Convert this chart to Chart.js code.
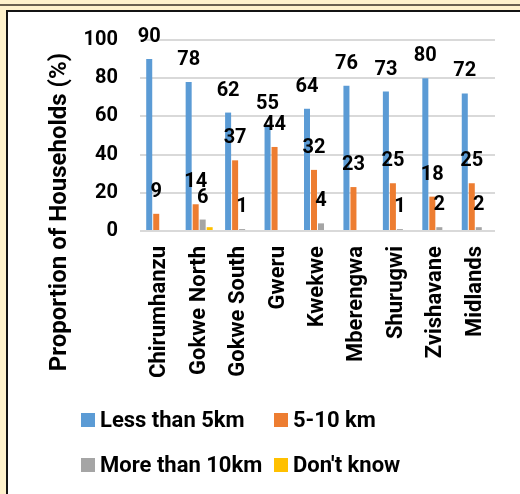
<!DOCTYPE html>
<html>
<head>
<meta charset="utf-8">
<script src="https://cdn.jsdelivr.net/npm/chart.js@4.4.1/dist/chart.umd.min.js"></script>
<style>
  html, body { margin: 0; padding: 0; width: 520px; height: 494px; overflow: hidden; background: #fff2cc; }
  .rule { position: absolute; left: 0; top: 4px; width: 520px; height: 2px; background: #6b6150; }
  .panel { position: absolute; left: 6px; top: 10px; width: 540px; height: 520px; background: #fff;
           border-left: 2px solid #141414; border-top: 2px solid #141414; }
  #chart { position: absolute; left: 0; top: 0; }
</style>
</head>
<body>
<div class="rule"></div>
<div class="panel"></div>
<canvas id="chart" width="520" height="494"></canvas>
<script>
// Distance to the nearest facility, % of households per district
const districts = ['Chirumhanzu', 'Gokwe North', 'Gokwe South', 'Gweru', 'Kwekwe',
                   'Mberengwa', 'Shurugwi', 'Zvishavane', 'Midlands'];
const lessThan5km   = [90, 78, 62, 55, 64, 76, 73, 80, 72];
const from5to10km   = [9, 14, 37, 44, 32, 23, 25, 18, 25];
const moreThan10km  = [0, 6, 1, 0, 4, 0, 1, 2, 2];
const dontKnow      = [0, 2, 0, 0, 0, 0, 0, 0, 0];
const yTicks        = [0, 20, 40, 60, 80, 100];

const FONT = 'Roboto, "Open Sans", "Liberation Sans", sans-serif';
const boldFont = size => ({ family: FONT, size: size, weight: 'bold' });

// Numbers written above each bar
const valueLabels = {
  id: 'valueLabels',
  afterDatasetsDraw(chart) {
    const ctx = chart.ctx;
    ctx.save();
    ctx.font = 'bold 20px ' + FONT;
    ctx.fillStyle = '#000';
    ctx.textAlign = 'center';
    ctx.textBaseline = 'alphabetic';
    chart.data.datasets.forEach((ds, i) => {
      if (ds.showValues === false) return;
      chart.getDatasetMeta(i).data.forEach((bar, j) => {
        const v = ds.data[j];
        if (!v) return;
        ctx.fillText(String(v), bar.x, bar.y - 17);
      });
    });
    ctx.restore();
  }
};

// Vertical axis title, centred on the plot plus its category labels
const axisTitle = {
  id: 'axisTitle',
  afterDraw(chart) {
    const ctx = chart.ctx;
    ctx.save();
    ctx.font = 'bold 24px ' + FONT;
    ctx.fillStyle = '#000';
    ctx.textAlign = 'center';
    ctx.textBaseline = 'middle';
    ctx.translate(60, 212);
    ctx.rotate(-Math.PI / 2);
    ctx.fillText('Proportion of Households (%)', 0, 0);
    ctx.restore();
  }
};

// Two-column legend under the chart
const gridLegend = {
  id: 'gridLegend',
  afterDraw(chart) {
    const ctx = chart.ctx;
    const cols = [81, 274];
    const rows = [420, 465];
    ctx.save();
    ctx.font = 'bold 22px ' + FONT;
    ctx.textAlign = 'left';
    ctx.textBaseline = 'middle';
    chart.data.datasets.forEach((ds, i) => {
      const x = cols[i % 2];
      const y = rows[Math.floor(i / 2)];
      ctx.fillStyle = ds.backgroundColor;
      ctx.fillRect(x, y - 7, 14, 14);
      ctx.fillStyle = '#000';
      ctx.fillText(ds.label, x + 19, y + 1);
    });
    ctx.restore();
  }
};

function draw() {
  new Chart(document.getElementById('chart'), {
    type: 'bar',
    data: {
      labels: districts,
      datasets: [
        { label: 'Less than 5km',  data: lessThan5km,  backgroundColor: '#5b9bd5' },
        { label: '5-10 km',        data: from5to10km,  backgroundColor: '#ed7d31' },
        { label: 'More than 10km', data: moreThan10km, backgroundColor: '#a5a5a5' },
        { label: "Don't know",     data: dontKnow,     backgroundColor: '#ffc000', showValues: false }
      ]
    },
    options: {
      responsive: false,
      animation: false,
      datasets: { bar: { barPercentage: 0.86, categoryPercentage: 0.71 } },
      layout: { padding: { left: 0, top: 40, right: 25, bottom: 100 } },
      plugins: { legend: { display: false }, tooltip: { enabled: false } },
      scales: {
        x: {
          grid: { display: false, drawTicks: false },
          border: { display: false },
          ticks: { font: boldFont(22), color: '#000', minRotation: 90, maxRotation: 90,
                   autoSkip: false, padding: 15 },
          afterFit(s) { s.height = 163; }
        },
        y: {
          min: 0, max: 100,
          afterBuildTicks(s) { s.ticks = yTicks.map(v => ({ value: v })); },
          grid: { color: '#d9d9d9', lineWidth: 2, drawTicks: false },
          border: { display: false },
          ticks: { font: boldFont(20), color: '#000', padding: 22 },
          afterFit(s) { s.width = 140; }
        }
      }
    },
    plugins: [valueLabels, axisTitle, gridLegend]
  });
}

if (document.fonts && document.fonts.load) {
  document.fonts.load('bold 20px Roboto').then(draw, draw);
} else {
  draw();
}
</script>
</body>
</html>
